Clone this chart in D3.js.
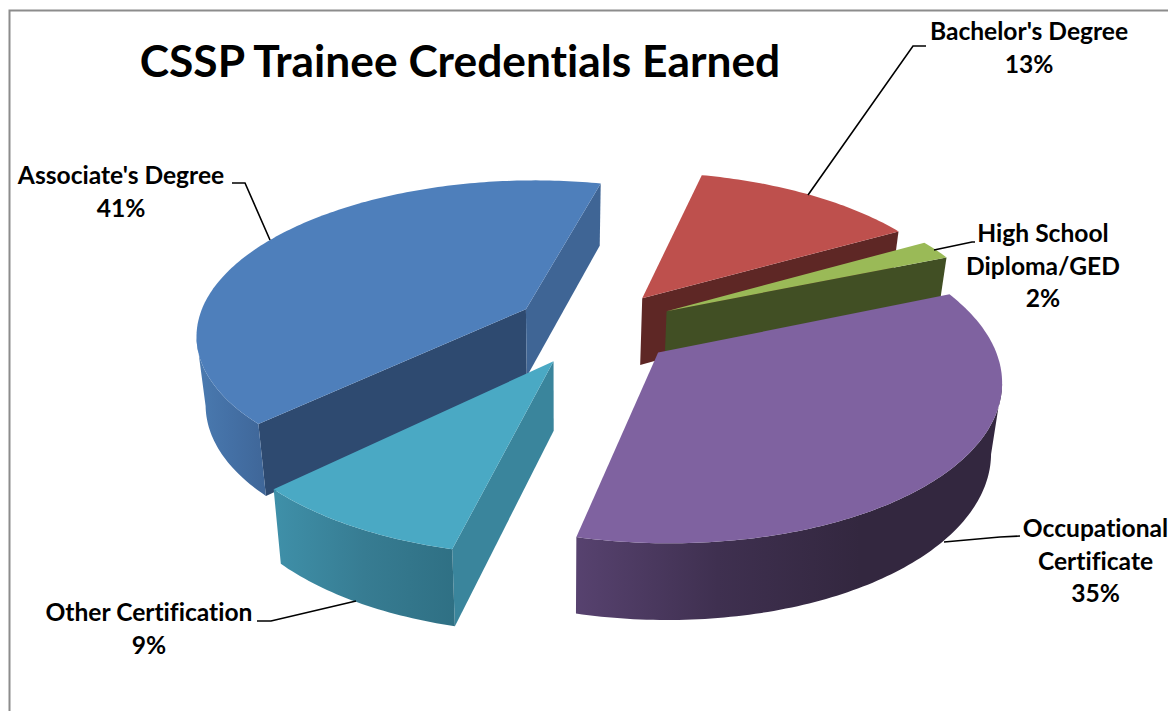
<!DOCTYPE html>
<html><head><meta charset="utf-8">
<script src="https://cdnjs.cloudflare.com/ajax/libs/d3/7.8.5/d3.min.js"></script>
<style>html,body{margin:0;padding:0;background:#fff;overflow:hidden}text{font-family:Lato,"Open Sans",sans-serif;font-weight:700;fill:#000;font-variant-ligatures:none}</style>
</head><body><svg id="c" width="1168" height="711"></svg>
<script>
const title = "CSSP Trainee Credentials Earned";
const categories = ["Bachelor's Degree","High School Diploma/GED","Occupational Certificate","Other Certification","Associate's Degree"];
const shares = [13,2,35,9,41];
const labelLines = [["Bachelor's Degree","13%"],["High School","Diploma/GED","2%"],["Occupational","Certificate","35%"],["Other Certification","9%"],["Associate's Degree","41%"]];
const topColors = ["#BE504D","#9ABA57","#7F62A0","#4AA9C4","#4E7FBB"];
const faceColors = ["#5E2725","#414F24","#33273F","#3A859C","#2E4A70"];
const endFaceColors = ["#5E2725","#414F24","#33273F","#3A859C","#3F6595"];
const wallStops = [["#5E2725","#5E2725"],["#414F24","#414F24"],["#57426F","#3F3050","#33273F","#33273F"],["#3F90A9","#377C92","#2F7084"],["#4A7AB0","#4470A5","#3F6698"]];
const labelPos = [[1029,40],[1043,242],[1095.5,537],[149,621],[121,184]];
const leaders = [[[808,195],[913,46],[926,46]],[[934,250],[972,242],[975,242]],[[944,542],[1000,537],[1020,536]],[[257,621],[271,621],[356,601]],[[232,183],[245,183],[270,240]]];
const paintOrder = [0,1,4,3,2];

const W=1168,H=711,cx=595,cy=327.5,R=330,explode=81,tilt=0.465,D=2180,vx=560,taper=0.975;
const svg=d3.select("#c");
const defs=svg.append("defs");
svg.append("path").attr("d","M9.5 711V10.5H1168").attr("fill","none").attr("stroke","#8c8c8c").attr("stroke-width",2);
const pie=d3.pie().sort(null).startAngle(13.5*Math.PI/180).endAngle((13.5+360)*Math.PI/180);
const arcs=pie(shares);
const line=d3.line();
function project(mid,r,a,lower){
  const X=explode*Math.sin(mid)+r*Math.sin(a), Y=explode*Math.cos(mid)+r*Math.cos(a);
  const s=1/(1+Y/D);
  let x=cx+X*s, y=cy-tilt*Y*s;
  if(lower){ y+=27+41*s; x=vx+(x-vx)*taper; }
  return [x,y];
}
function quad(p,q,p2,q2){return line([p,q,q2,p2])+"Z";}
paintOrder.forEach(i=>{
  const d=arcs[i], mid=(d.startAngle+d.endAngle)/2, g=svg.append("g");
  const n=Math.max(8,Math.round((d.endAngle-d.startAngle)*60));
  const angles=d3.range(n+1).map(k=>d.startAngle+(d.endAngle-d.startAngle)*k/n);
  const topArc=angles.map(a=>project(mid,R,a,false));
  const lowArc=angles.map(a=>project(mid,R,a,true));
  const apex=project(mid,0,0,false), apexLow=project(mid,0,0,true);
  if(topArc[0][0]<apex[0]) g.append("path").attr("d",quad(apex,topArc[0],apexLow,lowArc[0])).attr("fill",faceColors[i]);
  if(apex[0]<topArc[n][0]) g.append("path").attr("d",quad(topArc[n],apex,lowArc[n],apexLow)).attr("fill",endFaceColors[i]);
  const vis=d3.range(n).filter(k=>topArc[k+1][0]<topArc[k][0]);
  if(vis.length){
    const a0=vis[0],a1=vis[vis.length-1]+1;
    const t=topArc.slice(a0,a1+1), b=lowArc.slice(a0,a1+1).reverse();
    const xs=t.map(p=>p[0]).concat(b.map(p=>p[0]));
    const gid="w"+i;
    const grad=defs.append("linearGradient").attr("id",gid).attr("gradientUnits","userSpaceOnUse")
      .attr("x1",d3.min(xs)).attr("x2",d3.max(xs)).attr("y1",0).attr("y2",0);
    wallStops[i].forEach((c,k,arr)=>grad.append("stop").attr("offset",k/(arr.length-1)).attr("stop-color",c));
    g.append("path").attr("d",line(t.concat(b))+"Z").attr("fill",`url(#${gid})`);
  }
  g.append("path").attr("d",line([apex].concat(topArc))+"Z").attr("fill",topColors[i]);
});
leaders.forEach(l=>svg.append("path").attr("d",line(l)).attr("fill","none").attr("stroke","#000").attr("stroke-width",1.6));
categories.forEach((c,i)=>{
  const t=svg.append("text").attr("text-anchor","middle").attr("font-size",24.6);
  labelLines[i].forEach((s,k)=>t.append("tspan").attr("x",labelPos[i][0]).attr("y",labelPos[i][1]+k*32.5).text(s));
});
svg.append("text").attr("x",460).attr("y",77).attr("text-anchor","middle").attr("font-size",44.3).text(title);
</script></body></html>
